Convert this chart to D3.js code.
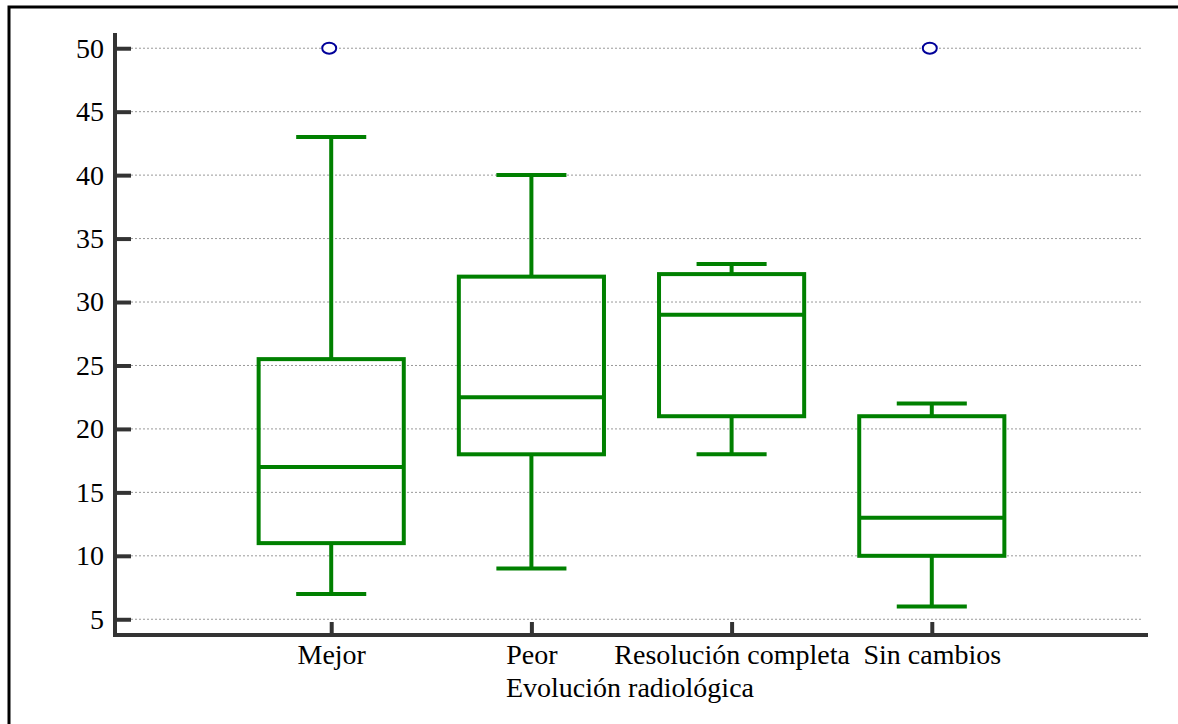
<!DOCTYPE html>
<meta charset="utf-8">
<style>
body { margin: 0; background: #fff; }
.grid line { stroke: #999; stroke-width: 1; stroke-dasharray: 2,2; }
.box rect, .box line { stroke: #008000; stroke-width: 4; fill: none; }
text { font-family: "Liberation Serif", "Times New Roman", serif; fill: #000; }
</style>
<body>
<script src="https://d3js.org/d3.v7.min.js"></script>
<script>

var categories = ['Mejor', 'Peor', 'Resolución completa', 'Sin cambios'];
var whiskerLow  = [7, 9, 18, 6];
var q1          = [11, 18, 21, 10];
var median      = [17, 22.5, 29, 13];
var q3          = [25.5, 32, 32.2, 21];
var whiskerHigh = [43, 40, 33, 22];
var outliers    = [['Mejor', 50], ['Sin cambios', 50]];
var yTicks = [5, 10, 15, 20, 25, 30, 35, 40, 45, 50];

var W = 1178, H = 724;
var svg = d3.select("body").append("svg").attr("width", W).attr("height", H);

// outer frame (only top and left visible)
svg.append("path")
	.attr("d", "M9," + (H + 10) + " L9,7 L" + (W + 10) + ",7")
	.attr("fill", "none").attr("stroke", "#000").attr("stroke-width", 3);

var pLeft = 115, pRight = 1148, pTop = 33, pBottom = 635;

var y = d3.scaleLinear().domain([3.76, 51.2]).range([pBottom, pTop]);
var x = d3.scalePoint().domain(categories).range([pLeft, pRight]).padding(1.08);
var step = x.step();

// grid
svg.append("g").attr("class", "grid")
	.selectAll("line").data(yTicks).enter().append("line")
	.attr("x1", pLeft + 16).attr("x2", pRight - 5)
	.attr("y1", d => y(d)).attr("y2", d => y(d));

// y axis
var yAxis = d3.axisLeft(y).tickValues(yTicks).tickSize(-16).tickPadding(10);
var gy = svg.append("g").attr("transform", "translate(" + pLeft + ",0)").call(yAxis);
gy.select(".domain").attr("stroke", "#333").attr("stroke-width", 4)
	.attr("d", "M0," + pTop + "V" + pBottom);
gy.selectAll(".tick line").attr("stroke", "#333").attr("stroke-width", 4);
gy.selectAll(".tick text").attr("x", -11).style("font-size", "28px")
	.style("font-family", "'Liberation Serif', serif").attr("fill", "#000");

// x axis
var xAxis = d3.axisBottom(x).tickSize(-13).tickPadding(14);
var gx = svg.append("g").attr("transform", "translate(0," + pBottom + ")").call(xAxis);
gx.select(".domain").attr("stroke", "#333").attr("stroke-width", 4)
	.attr("d", "M" + (pLeft - 2) + ",0H" + pRight);
gx.selectAll(".tick line").attr("stroke", "#333").attr("stroke-width", 4);
gx.selectAll(".tick text").attr("y", 9).style("font-size", "28px")
	.style("font-family", "'Liberation Serif', serif").attr("fill", "#000");

svg.append("text")
	.attr("x", 630).attr("y", 697)
	.attr("text-anchor", "middle")
	.style("font-size", "28px")
	.text("Evolución radiológica");

// boxes
var boxW = step * 0.725, capW = step * 0.35;
var stats = categories.map((c, i) => ({ key: c, lo: whiskerLow[i], q1: q1[i], med: median[i], q3: q3[i], hi: whiskerHigh[i] }));

var b = svg.append("g").selectAll(".box").data(stats).enter().append("g").attr("class", "box");
b.append("line").attr("x1", d => x(d.key)).attr("x2", d => x(d.key))
	.attr("y1", d => y(d.hi)).attr("y2", d => y(d.q3));
b.append("line").attr("x1", d => x(d.key)).attr("x2", d => x(d.key))
	.attr("y1", d => y(d.q1)).attr("y2", d => y(d.lo));
b.append("line").attr("x1", d => x(d.key) - capW / 2).attr("x2", d => x(d.key) + capW / 2)
	.attr("y1", d => y(d.hi)).attr("y2", d => y(d.hi));
b.append("line").attr("x1", d => x(d.key) - capW / 2).attr("x2", d => x(d.key) + capW / 2)
	.attr("y1", d => y(d.lo)).attr("y2", d => y(d.lo));
b.append("rect").attr("x", d => x(d.key) - boxW / 2).attr("width", boxW)
	.attr("y", d => y(d.q3)).attr("height", d => y(d.q1) - y(d.q3));
b.append("line").attr("x1", d => x(d.key) - boxW / 2).attr("x2", d => x(d.key) + boxW / 2)
	.attr("y1", d => y(d.med)).attr("y2", d => y(d.med));

// outliers
svg.append("g").selectAll("ellipse").data(outliers).enter().append("ellipse")
	.attr("cx", d => x(d[0]) - 2).attr("cy", d => y(d[1]))
	.attr("rx", 7).attr("ry", 5.5)
	.attr("fill", "#fff").attr("stroke", "#000099").attr("stroke-width", 2);

</script>
</body>
</html>
